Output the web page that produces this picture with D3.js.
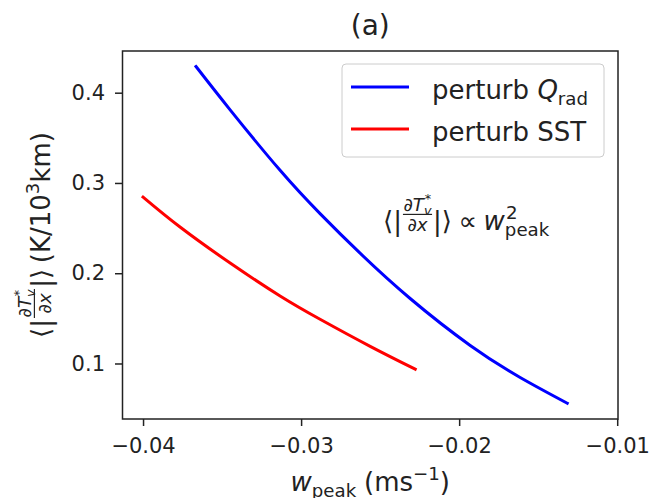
<!DOCTYPE html>
<html>
<head>
<meta charset="utf-8">
<script src="https://cdn.jsdelivr.net/npm/d3@7"></script>
<style>
  body { margin: 0; background: #fff; }
  svg { display: block; font-family: "DejaVu Sans", sans-serif; }
</style>
</head>
<body>
<svg id="chart" width="654" height="498"></svg>
<script>
// Temperature-gradient magnitude vs. peak vertical velocity
const xBlue = [-0.03665, -0.03449, -0.03133, -0.02880, -0.02627, -0.02310, -0.01930, -0.01614, -0.01316];
const yBlue = [0.4290, 0.3810, 0.3140, 0.2660, 0.2222, 0.1720, 0.1200, 0.0845, 0.0560];
const xRed = [-0.04000, -0.03766, -0.03449, -0.03133, -0.02880, -0.02563, -0.02278];
const yRed = [0.2844, 0.2512, 0.2113, 0.1748, 0.1490, 0.1190, 0.0937];

const xTicks = [-0.04, -0.03, -0.02, -0.01];
const xTickLabels = ["\u22120.04", "\u22120.03", "\u22120.02", "\u22120.01"];
const yTicks = [0.1, 0.2, 0.3, 0.4];
const yTickLabels = ["0.1", "0.2", "0.3", "0.4"];

const seriesColors = ["#0000ff", "#ff0000"];
const ink = "#222";

const svg = d3.select("#chart");
const plot = { left: 122.5, right: 618, top: 51, bottom: 419 };

const x = d3.scaleLinear().domain([-0.0413, -0.00995]).range([plot.left, plot.right]);
const y = d3.scaleLinear().domain([0.0385, 0.4462]).range([plot.bottom, plot.top]);

// Lays out a row of math-style text pieces (with sub/superscripts and fractions)
function mathRow(parent, items, fs) {
  const g = parent.append("g");
  let cx = 0;
  items.forEach(it => {
    if (it.num) {
      const f = fs * 0.7;
      const num = mathRow(g, it.num, f);
      const den = mathRow(g, it.den, f);
      const w = Math.max(num.w, den.w) + fs * 0.12;
      const bar = -0.6 * fs;
      num.g.attr("transform", `translate(${cx + (w - num.w) / 2},${bar - 0.15 * fs})`);
      den.g.attr("transform", `translate(${cx + (w - den.w) / 2},${bar + 0.62 * fs})`);
      g.append("line")
        .attr("x1", cx + fs * 0.04).attr("x2", cx + w - fs * 0.04)
        .attr("y1", bar).attr("y2", bar)
        .attr("stroke", ink).attr("stroke-width", Math.max(1, fs * 0.045));
      cx += w;
    } else {
      const f = fs * (it.sc || 1);
      const t = g.append("text")
        .attr("x", cx).attr("y", 0)
        .attr("font-size", f)
        .attr("font-style", it.it ? "italic" : "normal")
        .attr("fill", ink)
        .text(it.t);
      cx += t.node().getComputedTextLength();
      let adv = 0;
      if (it.sup) {
        const s = g.append("text")
          .attr("x", cx + (it.it ? f * 0.04 : 0)).attr("y", -0.42 * f)
          .attr("font-size", f * 0.7)
          .attr("font-style", it.supIt ? "italic" : "normal")
          .attr("fill", ink).text(it.sup);
        adv = Math.max(adv, s.node().getComputedTextLength() + (it.it ? f * 0.04 : 0));
      }
      if (it.sub) {
        const s = g.append("text")
          .attr("x", cx).attr("y", 0.24 * f)
          .attr("font-size", f * 0.7)
          .attr("font-style", it.subIt ? "italic" : "normal")
          .attr("fill", ink).text(it.sub);
        adv = Math.max(adv, s.node().getComputedTextLength());
      }
      cx += adv + (it.sp || 0) * fs;
    }
  });
  return { g, w: cx };
}

const gradFrac = {
  num: [{ t: "\u2202" }, { t: "T", it: true, sub: "v", subIt: true, sup: "*" }],
  den: [{ t: "\u2202" }, { t: "x", it: true }]
};

// Frame
svg.append("rect")
  .attr("x", plot.left).attr("y", plot.top)
  .attr("width", plot.right - plot.left).attr("height", plot.bottom - plot.top)
  .attr("fill", "none").attr("stroke", ink).attr("stroke-width", 1.5);

// Axes
const xAxis = svg.append("g")
  .attr("transform", `translate(0,${plot.bottom})`)
  .call(d3.axisBottom(x).tickValues(xTicks).tickFormat((d, i) => xTickLabels[i])
    .tickSize(7).tickSizeOuter(0).tickPadding(12));
const yAxis = svg.append("g")
  .attr("transform", `translate(${plot.left},0)`)
  .call(d3.axisLeft(y).tickValues(yTicks).tickFormat((d, i) => yTickLabels[i])
    .tickSize(7.5).tickSizeOuter(0).tickPadding(10));
[xAxis, yAxis].forEach(a => {
  a.select(".domain").remove();
  a.selectAll(".tick line").attr("stroke", ink).attr("stroke-width", 1.5);
  a.selectAll(".tick text").attr("fill", ink).attr("font-size", 21)
    .attr("font-family", "DejaVu Sans, sans-serif");
});

// Curves
const line = d3.line().x(d => x(d[0])).y(d => y(d[1])).curve(d3.curveNatural);
const series = [d3.zip(xBlue, yBlue), d3.zip(xRed, yRed)];
series.forEach((pts, i) => {
  svg.append("path")
    .datum(pts)
    .attr("d", line)
    .attr("fill", "none")
    .attr("stroke", seriesColors[i])
    .attr("stroke-width", 3)
    .attr("stroke-linecap", "square");
});

// Title
svg.append("text")
  .attr("x", (plot.left + plot.right) / 2).attr("y", 35)
  .attr("text-anchor", "middle").attr("font-size", 28).attr("fill", ink)
  .text("(a)");

// x label
const xl = mathRow(svg, [
  { t: "w", it: true, sub: "peak", sp: 0.3 },
  { t: "(ms", sup: "\u22121" },
  { t: ")" }
], 26);
xl.g.attr("transform", `translate(${(plot.left + plot.right) / 2 - xl.w / 2},491)`);

// y label (rotated)
const ylHolder = svg.append("g").attr("transform", `translate(50,${(plot.top + plot.bottom) / 2}) rotate(-90)`);
const yl = mathRow(ylHolder, [
  { t: "\u27e8|" },
  gradFrac,
  { t: "|\u27e9", sp: 0.22 },
  { t: "(K/10", sup: "3" },
  { t: "km)" }
], 26);
yl.g.attr("transform", `translate(${-yl.w / 2},0)`);

// Scaling annotation
const ann = mathRow(svg, [
  { t: "\u27e8|" },
  gradFrac,
  { t: "|\u27e9", sp: 0.25 },
  { t: "\u221d", sp: 0.25 },
  { t: "w", it: true, sup: "2", sub: "peak" }
], 26);
ann.g.attr("transform", `translate(383,230)`);

// Legend
const legend = svg.append("g");
legend.append("rect")
  .attr("x", 342).attr("y", 64).attr("width", 262).attr("height", 93)
  .attr("rx", 4).attr("fill", "#fff").attr("stroke", "#cccccc").attr("stroke-width", 1);
const legendRows = [
  [{ t: "perturb", sp: 0.32 }, { t: "Q", it: true, sub: "rad" }],
  [{ t: "perturb SST" }]
];
const legendY = [87, 129];
legendRows.forEach((row, i) => {
  legend.append("line")
    .attr("x1", 351).attr("x2", 409)
    .attr("y1", legendY[i]).attr("y2", legendY[i])
    .attr("stroke", seriesColors[i]).attr("stroke-width", 3);
  const r = mathRow(legend, row, 26);
  r.g.attr("transform", `translate(432,${legendY[i] + 12})`);
});
</script>
</body>
</html>
